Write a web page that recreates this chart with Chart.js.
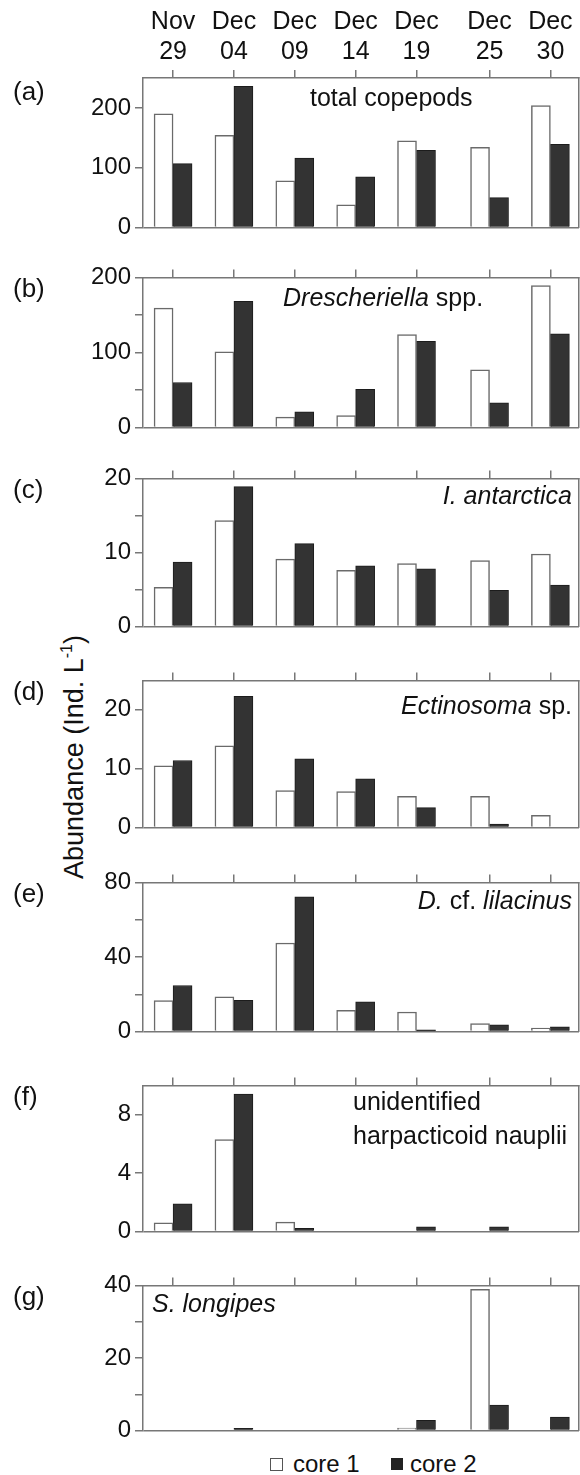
<!DOCTYPE html>
<html>
<head>
<meta charset="utf-8">
<script src="https://cdn.jsdelivr.net/npm/chart.js@4.4.0/dist/chart.umd.min.js"></script>
<style>
  body { margin: 0; background: #fff; }
  #fig { position: relative; width: 580px; height: 1475px; overflow: hidden;
         font-family: 'Liberation Sans', Arial, sans-serif; color: #111; }
  #fig canvas { position: absolute; left: 0; }
  .plab { position: absolute; left: 13px; font-size: 26px; line-height: 26px; }
  .ytitle { position: absolute; left: -126px; top: 742px; width: 400px; height: 30px;
            font-size: 27px; line-height: 30px; text-align: center; white-space: nowrap;
            transform: rotate(-90deg); }
  .ytitle sup { font-size: 16px; vertical-align: 11px; line-height: 0; }
  .lg { position: absolute; font-size: 24px; line-height: 24px; white-space: nowrap; }
  .sw { position: absolute; width: 11px; height: 11px; }
</style>
</head>
<body>
<div id="fig">
  <div class="ytitle">Abundance (Ind. L<sup>-1</sup>)</div>
  <span class="sw" style="left:270px;top:1458px;border:1px solid #555;background:#fff"></span>
  <span class="lg" style="left:293px;top:1452px">core 1</span>
  <span class="sw" style="left:391px;top:1458px;width:12px;height:12px;background:#222"></span>
  <span class="lg" style="left:410px;top:1452px">core 2</span>
</div>
<script>
// sampling dates as days after Nov 29
const sampleDays = [0, 5, 10, 15, 20, 26, 31];
const monthLabels = ['Nov', 'Dec', 'Dec', 'Dec', 'Dec', 'Dec', 'Dec'];
const dayLabels = ['29', '04', '09', '14', '19', '25', '30'];

// abundance, Ind. L-1
const totalCore1 = [190, 154, 78, 38, 145, 134, 204];
const totalCore2 = [107, 236, 116, 85, 129, 50, 139];
const dreschCore1 = [159, 101, 14, 16, 124, 77, 189];
const dreschCore2 = [60, 168, 21, 51, 115, 33, 125];
const antarcticaCore1 = [5.3, 14.3, 9.1, 7.6, 8.5, 8.9, 9.8];
const antarcticaCore2 = [8.7, 18.9, 11.2, 8.2, 7.8, 4.9, 5.6];
const ectinosomaCore1 = [10.5, 13.9, 6.3, 6.1, 5.3, 5.3, 2.1];
const ectinosomaCore2 = [11.4, 22.3, 11.7, 8.3, 3.4, 0.6, 0];
const lilacinusCore1 = [16.6, 18.7, 47.5, 11.4, 10.5, 4.3, 1.9];
const lilacinusCore2 = [24.7, 16.7, 72.2, 15.9, 1.0, 3.6, 2.6];
const naupliiCore1 = [0.6, 6.3, 0.65, 0, 0, 0, 0];
const naupliiCore2 = [1.9, 9.4, 0.22, 0, 0.33, 0.33, 0];
const longipesCore1 = [0, 0, 0, 0, 0.7, 38.9, 0];
const longipesCore2 = [0, 0.6, 0, 0, 2.8, 7.0, 3.7];

// y-axis maxima, minor tick step, labelled step
const yMax = [250, 200, 20, 25, 80, 10, 40];
const yStep = [50, 50, 5, 5, 20, 2, 10];
const yLabelStep = [100, 100, 10, 10, 40, 4, 20];

const axisGrey = '#777';
Chart.defaults.font.family = "'Liberation Sans', Arial, sans-serif";
Chart.defaults.color = '#111';

// species name inside the plot, mixed italic / upright runs
const panelTitle = {
  id: 'panelTitle',
  afterDatasetsDraw(chart, args, opts) {
    const {ctx, chartArea} = chart;
    ctx.save();
    ctx.fillStyle = '#111';
    ctx.textBaseline = 'alphabetic';
    opts.lines.forEach((runs, li) => {
      const fontOf = r => (r.italic ? 'italic ' : '') + '25px ' + Chart.defaults.font.family;
      let w = 0;
      runs.forEach(r => { ctx.font = fontOf(r); w += ctx.measureText(r.text).width; });
      let x = opts.align === 'right' ? opts.x - w : opts.x;
      const y = chartArea.top + opts.dy[li];
      runs.forEach(r => {
        ctx.font = fontOf(r);
        ctx.fillText(r.text, x, y);
        x += ctx.measureText(r.text).width;
      });
    });
    ctx.restore();
  }
};

const panels = [
  {tag: '(a)', c1: totalCore1, c2: totalCore2, top: 78, bottom: 230,
   title: {x: 310, align: 'left', dy: [28], lines: [[{text: 'total copepods'}]]}},
  {tag: '(b)', c1: dreschCore1, c2: dreschCore2, top: 275, bottom: 430,
   title: {x: 283, align: 'left', dy: [29], lines: [[{text: 'Drescheriella', italic: true}, {text: ' spp.'}]]}},
  {tag: '(c)', c1: antarcticaCore1, c2: antarcticaCore2, top: 476, bottom: 629,
   title: {x: 572, align: 'right', dy: [26], lines: [[{text: 'I. antarctica', italic: true}]]}},
  {tag: '(d)', c1: ectinosomaCore1, c2: ectinosomaCore2, top: 678, bottom: 830,
   title: {x: 572, align: 'right', dy: [34], lines: [[{text: 'Ectinosoma', italic: true}, {text: ' sp.'}]]}},
  {tag: '(e)', c1: lilacinusCore1, c2: lilacinusCore2, top: 880, bottom: 1034,
   title: {x: 572, align: 'right', dy: [27], lines: [[{text: 'D.', italic: true}, {text: ' cf. '}, {text: 'lilacinus', italic: true}]]}},
  {tag: '(f)', c1: naupliiCore1, c2: naupliiCore2, top: 1083, bottom: 1234,
   title: {x: 353, align: 'left', dy: [25, 59], lines: [[{text: 'unidentified'}], [{text: 'harpacticoid nauplii'}]]}},
  {tag: '(g)', c1: longipesCore1, c2: longipesCore2, top: 1283, bottom: 1433,
   title: {x: 152, align: 'left', dy: [27], lines: [[{text: 'S. longipes', italic: true}]]}}
];

const fig = document.getElementById('fig');

panels.forEach((p, i) => {
  const first = i === 0;
  const padTop = first ? p.top : 16;
  const canvasTop = p.top - padTop;
  const canvas = document.createElement('canvas');
  canvas.width = 580;
  canvas.height = p.bottom - canvasTop + 16;
  canvas.style.top = canvasTop + 'px';
  fig.appendChild(canvas);

  const lab = document.createElement('div');
  lab.className = 'plab';
  lab.style.top = p.top + 'px';
  lab.textContent = p.tag;
  fig.appendChild(lab);

  const points = vals => sampleDays.map((d, k) => ({x: d, y: vals[k]}));

  new Chart(canvas, {
    type: 'bar',
    data: {
      datasets: [
        {label: 'core 1', data: points(p.c1), backgroundColor: '#fff',
         borderColor: '#6a6a6a', borderWidth: 1.5, barThickness: 19},
        {label: 'core 2', data: points(p.c2), backgroundColor: '#333',
         borderColor: '#1c1c1c', borderWidth: 1, barThickness: 19}
      ]
    },
    options: {
      responsive: false,
      animation: false,
      layout: {padding: {top: 0, left: 0, right: 1, bottom: 16}},
      plugins: {legend: {display: false}, tooltip: {enabled: false}, panelTitle: p.title},
      scales: {
        x: {
          type: 'linear', position: 'top', min: -2.47, max: 33.35, offset: false,
          afterBuildTicks: s => { s.ticks = sampleDays.map(v => ({value: v})); },
          afterFit: s => { s.height = padTop; },
          grid: {offset: false, drawOnChartArea: false, tickLength: 8, tickColor: axisGrey, lineWidth: 1.5},
          border: {color: axisGrey, width: 1.5},
          ticks: {display: first, autoSkip: false, maxRotation: 0, padding: 3,
                  font: {size: 25}, color: '#111',
                  callback: (v, k) => [monthLabels[k], dayLabels[k]]}
        },
        y: {
          min: 0, max: yMax[i],
          afterFit: s => { s.width = 143; },
          ticks: {stepSize: yStep[i], padding: 4, font: {size: 24}, color: '#111',
                  callback: v => (v % yLabelStep[i] === 0 ? String(v) : '')},
          grid: {color: c => (c.tick && c.tick.value === 0 ? axisGrey : 'rgba(0,0,0,0)'),
                 tickColor: axisGrey, tickLength: 8, lineWidth: 1.5},
          border: {color: axisGrey, width: 1.5}
        },
        yr: {
          type: 'linear', position: 'right', display: true,
          ticks: {display: false}, grid: {display: false},
          border: {color: axisGrey, width: 1.5},
          afterFit: s => { s.width = 0; }
        }
      }
    },
    plugins: [panelTitle]
  });
});
</script>
</body>
</html>
